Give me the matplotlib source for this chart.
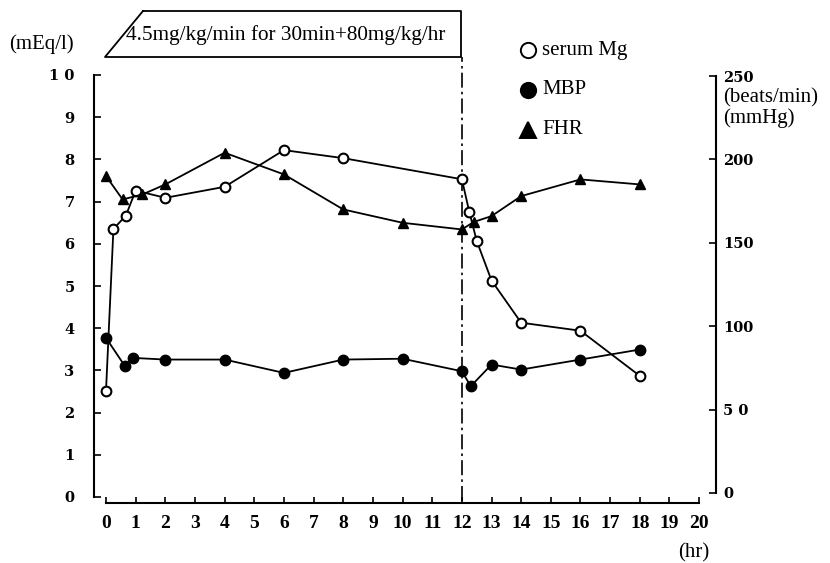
import matplotlib
matplotlib.use('Agg')
import matplotlib.pyplot as plt
from matplotlib.lines import Line2D

# serum Mg (mEq/l), left axis
mg_hr = [0, 0.25, 0.67, 1, 2, 4, 6, 8, 12, 12.25, 12.5, 13, 14, 16, 18]
mg_val = [2.52, 6.35, 6.67, 7.26, 7.09, 7.35, 8.22, 8.03, 7.53, 6.76, 6.07, 5.13, 4.13, 3.94, 2.87]
# MBP (mmHg), right axis
mbp_hr = [0, 0.64, 0.9, 2, 4, 6, 8, 10, 12, 12.3, 13, 14, 16, 18]
mbp_val = [93, 76, 81, 80, 80, 72, 80, 80.5, 73, 64, 77, 74, 80, 86]
# FHR (beats/min), right axis
fhr_hr = [0, 0.56, 1.23, 2, 4, 6, 8, 10, 12, 12.4, 13, 14, 16, 18]
fhr_val = [190, 176, 179, 185, 204, 191, 170, 162, 158, 162.5, 166, 178, 188, 185]

hr_ticks = list(range(0, 21))
left_ticks = list(range(0, 11))
left_labels = ['0', '1', '2', '3', '4', '5', '6', '7', '8', '9', '1 0']
right_ticks = [0, 50, 100, 150, 200, 250]
right_labels = ['0', '5 0', '100', '150', '200', '250']

infusion_end = 12
infusion_text = '4.5mg/kg/min for 30min+80mg/kg/hr'

W, H = 830, 563
serif = ['Liberation Serif', 'DejaVu Serif']
tickfont = dict(family=['DejaVu Serif'], weight='bold', size=10.5)
xtickfont = dict(family=serif, weight='bold', size=14)

def fx(px):
    return px / W

def fy(py):
    return 1 - py / H

fig = plt.figure(figsize=(W / 100, H / 100), dpi=100)
ax = fig.add_axes([fx(94), fy(497), fx(716) - fx(94), fy(75) - fy(497)])
ax.set_xlim(-0.405, 20.57)
ax.set_ylim(0, 10)

ax.plot(mg_hr, mg_val, color='black', lw=1.3, marker='o', ms=7,
        mfc='white', mec='black', mew=1.5, zorder=4)

ax2 = ax.twinx()
ax2.set_ylim(-2.4, 250.6)
ax2.plot(mbp_hr, mbp_val, color='black', lw=1.3, marker='o', ms=7.5, mfc='black', mec='black', zorder=3)
ax2.plot(fhr_hr, fhr_val, color='black', lw=1.3, marker='^', ms=7.5, mfc='black', mec='black', zorder=3)

# infusion end line
ax.plot([infusion_end, infusion_end], [-0.1, (497 - 57) / 42.2], color='black', lw=1.2,
        linestyle=(0, (9, 2.5, 1.5, 2.5)), clip_on=False, zorder=2)

for s in ['top', 'right']:
    ax.spines[s].set_visible(False)
ax.spines['left'].set_bounds(0, 10)
ax.spines['left'].set_linewidth(1.5)
ax.spines['bottom'].set_position(('outward', 4))
ax.spines['bottom'].set_bounds(0, 20)
ax.spines['bottom'].set_linewidth(1.5)
for s in ['top', 'left', 'bottom']:
    ax2.spines[s].set_visible(False)
ax2.spines['right'].set_bounds(0, 250)
ax2.spines['right'].set_linewidth(1.5)

ax.set_xticks(hr_ticks)
ax.set_xticklabels([str(h) for h in hr_ticks], fontdict=xtickfont)
ax.set_yticks(left_ticks)
ax.set_yticklabels(left_labels, fontdict=tickfont)
ax2.set_yticks(right_ticks)
ax2.set_yticklabels(right_labels, fontdict=tickfont)
ax.tick_params(axis='x', direction='in', length=4, width=1.2, pad=9)
ax.tick_params(axis='y', direction='in', length=5, width=1.2, pad=14)
ax2.tick_params(axis='y', direction='in', length=5, width=1.2, pad=5)

# unit labels
fig.text(fx(9), fy(44), '(mEq/l)', family=serif, fontsize=15, va='center', ha='left')
fig.text(fx(723), fy(98), '(beats/min)', family=serif, fontsize=15, va='center', ha='left')
fig.text(fx(723), fy(118), '(mmHg)', family=serif, fontsize=15, va='center', ha='left')
fig.text(fx(694), fy(553), '(hr)', family=serif, fontsize=15, va='center', ha='center')

# infusion box
box_x = [143, 461, 461, 105, 143]
box_y = [11, 11, 57, 57, 11]
fig.add_artist(Line2D([fx(p) for p in box_x], [fy(p) for p in box_y],
                      transform=fig.transFigure, color='black', lw=1.3))
fig.text(fx(126), fy(35), infusion_text, family=serif, fontsize=15.3, va='center', ha='left')

# legend
legend_items = [('o', 'white', 'serum Mg', 50), ('o', 'black', 'MBP', 90), ('^', 'black', 'FHR', 130)]
for mk, face, label, py in legend_items:
    fig.add_artist(Line2D([fx(528)], [fy(py)], transform=fig.transFigure, marker=mk, ms=11,
                          mfc=face, mec='black', mew=1.4, linestyle='none'))
    fig.text(fx(542), fy(py), label, family=serif, fontsize=15, va='center', ha='left')

plt.savefig('out.png', dpi=100)
